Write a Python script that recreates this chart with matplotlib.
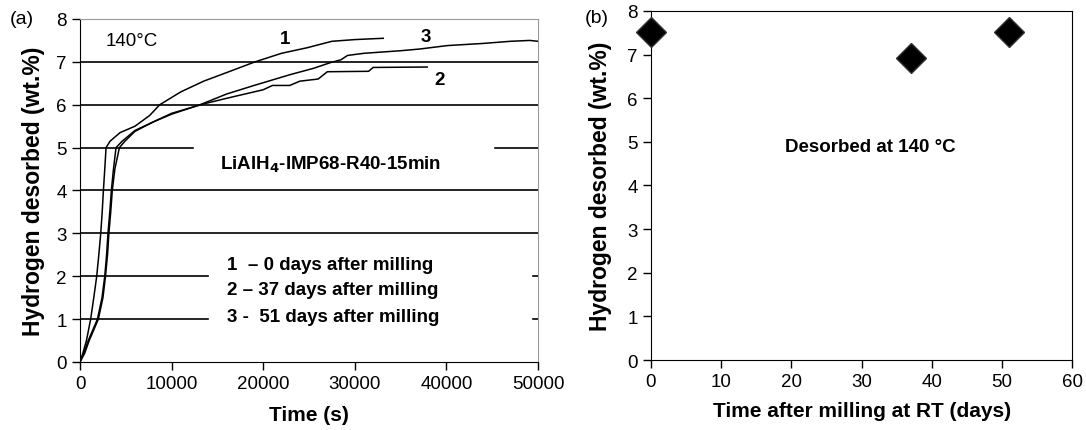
import matplotlib
matplotlib.use('Agg')
import matplotlib.pyplot as plt

plt.rcParams['font.family'] = ['Liberation Sans', 'DejaVu Sans']

# (a) desorption curves at 140 C, time in s, hydrogen in wt.%
t_day0 = [0, 300, 700, 1160, 1500, 1820, 2050, 2260, 2420, 2550, 2700, 2840, 3280, 4370,
          6000, 7600, 8700, 11000, 13500, 16000, 19100, 22000, 24800, 27500, 30000, 33100]
h_day0 = [0, 0.2, 0.5, 1.0, 1.5, 2.0, 2.5, 3.0, 3.5, 4.0, 4.5, 5.0, 5.15, 5.35,
          5.5, 5.75, 6.0, 6.3, 6.55, 6.75, 7.0, 7.2, 7.33, 7.48, 7.52, 7.55]

t_day37 = [0, 400, 900, 1900, 2400, 2700, 2900, 3050, 3250, 3420, 3650, 3930, 4600, 6000,
           8000, 10000, 13500, 16000, 19000, 20000, 21000, 22900, 24000, 26000, 27000,
           31500, 32000, 37900]
h_day37 = [0, 0.2, 0.5, 1.0, 1.5, 2.0, 2.5, 3.0, 3.5, 4.0, 4.5, 5.0, 5.15, 5.4,
           5.6, 5.8, 6.02, 6.15, 6.3, 6.35, 6.45, 6.45, 6.55, 6.6, 6.77,
           6.78, 6.87, 6.88]

t_day51 = [0, 500, 1000, 2000, 2500, 2780, 3000, 3150, 3350, 3520, 3800, 4300, 4900, 6000,
           8000, 10000, 13100, 16000, 19000, 22900, 25500, 27300, 28500, 29200, 31000,
           35000, 37100, 40100, 44000, 47000, 49100, 50000]
h_day51 = [0, 0.2, 0.5, 1.0, 1.5, 2.0, 2.5, 3.0, 3.5, 4.0, 4.5, 5.0, 5.15, 5.38,
           5.6, 5.78, 6.0, 6.25, 6.45, 6.7, 6.85, 6.98, 7.05, 7.15, 7.2,
           7.26, 7.3, 7.38, 7.43, 7.48, 7.5, 7.48]

# (b) total desorbed vs storage time
days = [0, 37, 51]
total_h = [7.52, 6.93, 7.52]

fig = plt.figure(figsize=(10.86, 4.31), dpi=100)
ax1 = fig.add_axes([0.0737, 0.1578, 0.4217, 0.7958])
ax2 = fig.add_axes([0.5994, 0.1624, 0.3880, 0.8098])

# horizontal lines with gaps where the text sits
for y in [3, 4, 6, 7]:
    ax1.plot([0, 50000], [y, y], color='black', lw=1.2, zorder=1)
ax1.plot([0, 12300], [5, 5], color='black', lw=1.2, zorder=1)
ax1.plot([45300, 50000], [5, 5], color='black', lw=1.2, zorder=1)
for y in [1, 2]:
    ax1.plot([0, 14000], [y, y], color='black', lw=1.2, zorder=1)
    ax1.plot([49400, 50000], [y, y], color='black', lw=1.2, zorder=1)

ax1.plot(t_day0, h_day0, color='black', lw=1.1, zorder=2)
ax1.plot(t_day37, h_day37, color='black', lw=1.1, zorder=2)
ax1.plot(t_day51, h_day51, color='black', lw=1.1, zorder=2)

ax1.set_xlim(0, 50000)
ax1.set_ylim(0, 8)
ax1.set_xticks(range(0, 50001, 10000))
ax1.set_yticks(range(0, 9))
for s in ['top', 'right']:
    ax1.spines[s].set_color('#999999')
ax1.tick_params(direction='out', length=6, width=1, labelsize=13.5)
ax1.set_xlabel('Time (s)', fontsize=15, fontweight='bold', labelpad=9)
ax1.set_ylabel('Hydrogen desorbed (wt.%)', fontsize=16.5, fontweight='bold', labelpad=8)

bold = dict(fontsize=13.5, fontweight='bold')
ax1.text(5600, 7.5, '140°C', ha='center', va='center', fontsize=13.5)
ax1.text(22400, 7.55, '1', ha='center', va='center', **bold)
ax1.text(37700, 7.6, '3', ha='center', va='center', **bold)
ax1.text(39300, 6.6, '2', ha='center', va='center', **bold)
ax1.text(27300, 4.62, 'LiAlH$_{\\mathbf{4}}$-IMP68-R40-15min', ha='center', va='center', **bold)
ax1.text(16000, 2.28, '1  – 0 days after milling', ha='left', va='center', **bold)
ax1.text(16000, 1.68, '2 – 37 days after milling', ha='left', va='center', **bold)
ax1.text(16000, 1.07, '3 -  51 days after milling', ha='left', va='center', **bold)

ax2.plot(days, total_h, 'D', color='black', markersize=15, markeredgecolor='#333333',
         clip_on=False, zorder=3)
ax2.set_xlim(0, 60)
ax2.set_ylim(0, 8)
ax2.set_xticks(range(0, 61, 10))
ax2.set_yticks(range(0, 9))
ax2.tick_params(direction='out', length=6, width=1, labelsize=13.5)
ax2.set_xlabel('Time after milling at RT (days)', fontsize=15, fontweight='bold', labelpad=8)
ax2.set_ylabel('Hydrogen desorbed (wt.%)', fontsize=16.5, fontweight='bold', labelpad=11)
ax2.text(31.2, 4.9, 'Desorbed at 140 °C', ha='center', va='center', **bold)

fig.text(0.009, 0.955, '(a)', fontsize=14, va='center', ha='left')
fig.text(0.538, 0.957, '(b)', fontsize=14, va='center', ha='left')

fig.savefig('out.png', dpi=100)
